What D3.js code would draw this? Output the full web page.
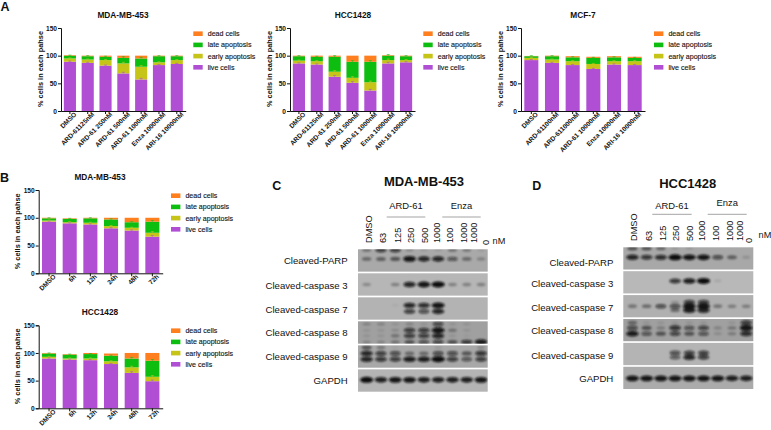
<!DOCTYPE html>
<html>
<head>
<meta charset="utf-8">
<script src="https://cdn.jsdelivr.net/npm/d3@7"></script>
<style>
  html, body { margin: 0; padding: 0; background: #fff; }
  svg { display: block; }
  text { font-family: "Liberation Sans", Arial, sans-serif; fill: #111; }
  .bold { font-weight: bold; }
  .axis path, .axis line { stroke: #111; stroke-width: 1; }
  .axis text { font-weight: bold; font-size: 6.6px; }
</style>
</head>
<body>
<div id="visualization"></div>
<script>
// phases, bottom to top of the stack
const phases = ['live', 'early', 'late', 'dead']
const legendLabels = ['dead cells', 'late apoptosis', 'early apoptosis', 'live cells']
const yTicks = [0, 50, 100, 150]

// panel A
const doseLabels = ['DMSO', 'ARD-61125nM', 'ARD-61 250nM', 'ARD-61 500nM', 'ARD-61 1000nM', 'Enza 10000nM', 'ARI-16 10000nM']
const mcfLabels = ['DMSO', 'ARD-61100nM', 'ARD-611000nM', 'ARD-61 10000nM', 'Enza 10000nM', 'ARI-16 10000nM']

const a1Live = [89, 87, 82, 68, 57, 83, 85]
const a1Early = [6, 6, 10, 18, 23, 5, 7]
const a1Late = [5, 6, 6, 10, 15, 11, 7]
const a1Dead = [1, 1, 2, 4, 5, 1, 1]
const a1Err = [1, 1, 1, 2, 2, 1, 1]

const a2Live = [86, 84, 62, 51, 37, 86, 88]
const a2Early = [5, 6, 9, 9, 15, 6, 4]
const a2Late = [8, 8, 27, 29, 37, 8, 7]
const a2Dead = [1, 2, 2, 11, 11, 1, 1]
const a2Err = [1, 1, 2, 2, 2, 2, 1]

const a3Live = [92, 87, 83, 76, 84, 83]
const a3Early = [4, 6, 7, 9, 6, 7]
const a3Late = [3, 6, 7, 11, 7, 6]
const a3Dead = [0.5, 1, 2, 2, 2, 2]
const a3Err = [1, 1, 1, 1, 1, 1]

// panel B
const timeLabels = ['DMSO', '6h', '12h', '24h', '48h', '72h']

const b1Live = [93, 90, 88, 81, 77, 66]
const b1Early = [2, 2, 3, 4, 5, 7]
const b1Late = [4, 6, 8, 12, 10, 20]
const b1Dead = [1, 1, 1, 3, 8, 7]
const b1Err = [1, 1, 1, 1, 1, 2]

const b2Live = [90, 88, 87, 80, 64, 49]
const b2Early = [3, 2, 3, 5, 10, 8]
const b2Late = [6, 7, 8, 10, 16, 29]
const b2Dead = [1, 1, 2, 4, 10, 14]
const b2Err = [1, 1, 1, 1, 2, 2]

// blots: row names and lane labels
const blotRows = ['Cleaved-PARP', 'Cleaved-caspase 3', 'Cleaved-caspase 7', 'Cleaved-caspase 8', 'Cleaved-caspase 9', 'GAPDH']
const laneLabels = ['DMSO', '63', '125', '250', '500', '1000', '100', '1000', '1000', '0']
const lanes = d3.range(9)

// band strength per lane, read by eye from the blots. panel C
const cParpTop = [.35, .7, .7, .2, .1, .1, .35, .3, .1]
const cParp = [.4, .45, .5, .95, .85, .85, .55, .4, .25]
const cCasp3 = [.25, 0, .3, .85, .95, 1, .3, .3, .3]
const cCasp7a = [0, 0, .05, .85, .8, .95, 0, 0, 0]
const cCasp7b = [0, 0, 0, .7, .6, .85, 0, 0, 0]
const cCasp8a = [.2, .2, .1, .2, .1, .6, .1, .1, 0]
const cCasp8b = [.1, .1, .15, .7, .7, .95, .3, .1, 0]
const cCasp8c = [.1, .1, .3, .7, .7, .85, .1, .05, 0]
const cCasp8d = [.2, .2, .3, .5, .55, .6, .5, .7, .9]
const cCasp9a = [.5, .3, .05, 0, 0, .1, 0, 0, .2]
const cCasp9b = [.85, .7, .6, .4, .4, .6, .6, .5, .75]
const cCasp9c = [.85, .75, .7, .9, .9, 1, .7, .55, .7]
const cGapdh = [1, .9, .95, .95, .9, .9, .9, .9, .95]

// panel D
const dParpTop = [.5, .5, .4, .1, .1, 0, 0, 0, 0]
const dParp = [.85, .75, .8, 1, .95, .95, .6, .45, .15]
const dCasp3 = [0, 0, 0, .75, .9, 1, .1, 0, 0]
const dCasp7a = [0, 0, 0, .2, .7, .7, 0, 0, 0]
const dCasp7b = [.35, .4, .6, .6, .95, .95, .35, .3, .3]
const dCasp7c = [0, 0, 0, .4, .9, .85, 0, 0, 0]
const dCasp8a = [.4, .1, .1, .1, .1, .1, 0, .1, .7]
const dCasp8b = [.6, .5, .25, .75, .55, .65, .2, .3, .95]
const dCasp8c = [.9, .55, .5, .65, .5, .55, .15, .25, .8]
const dCasp9a = [0, 0, 0, .6, .7, .7, 0, 0, 0]
const dCasp9b = [0, 0, 0, .55, .85, .7, 0, 0, 0]
const dGapdh = [.95, .95, .95, .95, .95, .95, .95, .9, .9]

const w = 771
const h = 430
const color = d3.scaleOrdinal(phases, ['#b04fd4', '#c6c416', '#0dbd10', '#ff7f1e'])

const svg = d3.select('#visualization')
  .append('svg')
  .attr('width', w)
  .attr('height', h)

// soft edges for the blot bands
svg.append('filter')
  .attr('id', 'soft')
  .attr('x', '-40%').attr('y', '-80%')
  .attr('width', '180%').attr('height', '260%')
  .append('feGaussianBlur')
  .attr('stdDeviation', 0.8)

function drawStack(o) {
  const x = d3.scaleBand()
    .domain(o.labels)
    .range([o.left, o.right])
    .paddingInner(o.pad)
    .paddingOuter(o.pad / 2)

  const y = d3.scaleLinear()
    .domain([0, 150])
    .range([o.base, o.top])

  const rows = o.labels.map((label, i) => ({
    label,
    live: o.live[i],
    early: o.early[i],
    late: o.late[i],
    dead: o.dead[i],
    err: o.err[i]
  }))
  const series = d3.stack().keys(phases)(rows)

  const g = svg.append('g')

  // BARS
  g.selectAll('g.phase')
    .data(series)
    .enter()
    .append('g')
    .attr('class', 'phase')
    .attr('fill', d => color(d.key))
    .selectAll('rect')
    .data(d => d)
    .enter()
    .append('rect')
    .attr('x', d => x(d.data.label))
    .attr('width', x.bandwidth())
    .attr('y', d => y(d[1]))
    .attr('height', d => y(d[0]) - y(d[1]))

  // ERROR BARS, they only show inside the next segment up
  series.slice(0, 3).forEach(s => {
    const cx = d => x(d.data.label) + x.bandwidth() / 2
    g.selectAll(null)
      .data(s)
      .enter()
      .append('path')
      .attr('fill', 'none')
      .attr('stroke', color(s.key))
      .attr('stroke-width', 0.6)
      .attr('d', d => {
        const top = y(d[1] + d.data.err)
        return `M${cx(d)},${y(d[1])}V${top}M${cx(d) - 1.5},${top}H${cx(d) + 1.5}`
      })
  })

  //GENERATE AXES
  g.append('g')
    .attr('class', 'axis')
    .attr('transform', `translate(${o.left},0)`)
    .call(d3.axisLeft(y).tickValues(yTicks).tickSize(3).tickPadding(1))

  const xAxis = g.append('g')
    .attr('class', 'axis')
    .attr('transform', `translate(0,${o.base})`)
    .call(d3.axisBottom(x).tickSize(3).tickPadding(1).tickSizeOuter(0))

  xAxis.selectAll('text')
    .attr('text-anchor', 'end')
    .attr('dx', '0.35em')
    .attr('dy', '0.55em')
    .attr('transform', 'rotate(-45)')

  // y axis title
  g.append('text')
    .text('% cells in each pahse')
    .attr('class', 'bold')
    .attr('font-size', 7.4)
    .attr('text-anchor', 'middle')
    .attr('transform', `translate(${o.left - 18.5},${o.base - 42}) rotate(-90)`)

  // panel title
  g.append('text')
    .text(o.title)
    .attr('class', 'bold')
    .attr('font-size', 8.3)
    .attr('text-anchor', 'middle')
    .attr('x', o.titleX)
    .attr('y', o.titleY)

  // legend
  const legendY = d3.scalePoint().domain(legendLabels).range([o.legendTop, o.legendTop + 33.6])
  const legendKeys = phases.slice().reverse()
  legendLabels.forEach((label, i) => {
    g.append('rect')
      .attr('x', o.legendX)
      .attr('y', legendY(label) - 2.3)
      .attr('width', 9.4)
      .attr('height', 4.6)
      .attr('fill', color(legendKeys[i]))
    g.append('text')
      .text(label)
      .attr('font-size', 7.1)
      .attr('stroke', '#111')
      .attr('stroke-width', 0.12)
      .attr('x', o.legendX + 14.4)
      .attr('y', legendY(label) + 2.4)
  })
}

drawStack({ title: 'MDA-MB-453', titleX: 123, titleY: 18, labels: doseLabels, live: a1Live, early: a1Early, late: a1Late, dead: a1Dead, err: a1Err,
  left: 61, right: 185.7, top: 28, base: 111, pad: 0.32, legendX: 193.3, legendTop: 33.7 })
drawStack({ title: 'HCC1428', titleX: 353, titleY: 18, labels: doseLabels, live: a2Live, early: a2Early, late: a2Late, dead: a2Dead, err: a2Err,
  left: 290, right: 415, top: 28, base: 111, pad: 0.32, legendX: 423.3, legendTop: 33.7 })
drawStack({ title: 'MCF-7', titleX: 583, titleY: 18, labels: mcfLabels, live: a3Live, early: a3Early, late: a3Late, dead: a3Dead, err: a3Err,
  left: 521, right: 645, top: 28, base: 111, pad: 0.32, legendX: 654, legendTop: 33.7 })
drawStack({ title: 'MDA-MB-453', titleX: 100, titleY: 180.3, labels: timeLabels, live: b1Live, early: b1Early, late: b1Late, dead: b1Dead, err: b1Err,
  left: 38.7, right: 162.7, top: 190, base: 273.3, pad: 0.32, legendX: 171, legendTop: 195.7 })
drawStack({ title: 'HCC1428', titleX: 100, titleY: 315.3, labels: timeLabels, live: b2Live, early: b2Early, late: b2Late, dead: b2Dead, err: b2Err,
  left: 38.7, right: 162.7, top: 325.3, base: 408.3, pad: 0.32, legendX: 171, legendTop: 330.7 })

function drawBlot(o) {
  const x = d3.scaleBand().domain(lanes).range(o.laneRange)
  const row = d3.scaleBand().domain(blotRows).range([o.top, o.bottom]).paddingInner(0.07)
  const strength = d3.scaleLinear().domain([0, 1]).range([0, 1])
  const thick = d3.scaleLinear().domain([0, 1]).range([1.2, 3])
  const long = d3.scaleLinear().domain([0, 1]).range([3.5, 6.6])

  const g = svg.append('g')

  blotRows.forEach((name, r) => {
    const rowY = d3.scaleLinear().domain([0, 1]).range([row(name), row(name) + row.bandwidth()])

    // membrane
    g.append('rect')
      .attr('x', o.left)
      .attr('y', row(name))
      .attr('width', o.right - o.left)
      .attr('height', row.bandwidth())
      .attr('fill', o.membrane[r])

    const clipId = `${o.id}-row-${r}`
    g.append('clipPath')
      .attr('id', clipId)
      .append('rect')
      .attr('x', o.left)
      .attr('y', row(name))
      .attr('width', o.right - o.left)
      .attr('height', row.bandwidth())

    const bands = g.append('g').attr('clip-path', `url(#${clipId})`).append('g').attr('filter', 'url(#soft)')
    o.bands[r].forEach(band => {
      bands.selectAll(null)
        .data(band.strength)
        .enter()
        .append('ellipse')
        .attr('cx', (d, i) => x(i) + x.bandwidth() / 2)
        .attr('cy', rowY(band.at))
        .attr('rx', d => long(d))
        .attr('ry', d => thick(d))
        .attr('fill', '#0c0c0c')
        .attr('opacity', d => strength(d))
    })

    g.append('text')
      .text(name)
      .attr('font-size', 9.6)
      .attr('text-anchor', 'end')
      .attr('x', o.labelRight)
      .attr('y', o.labelY[r])
      .attr('dy', '0.36em')
  })

  // lane labels
  laneLabels.forEach((label, i) => {
    g.append('text')
      .text(label)
      .attr('font-size', 9.2)
      .attr('transform', `translate(${o.laneX[i]},${label === '0' ? o.laneBase + 2 : o.laneBase}) rotate(-90)`)
  })
  g.append('text')
    .text('nM')
    .attr('font-size', 9.2)
    .attr('text-anchor', 'middle')
    .attr('x', o.nmX)
    .attr('y', o.nmY)

  // group headers
  o.groups.forEach(group => {
    g.append('text')
      .text(group.name)
      .attr('font-size', 9.4)
      .attr('text-anchor', 'middle')
      .attr('x', (group.from + group.to) / 2)
      .attr('y', group.textY)
    g.append('line')
      .attr('x1', group.from)
      .attr('x2', group.to)
      .attr('y1', o.groupLineY)
      .attr('y2', o.groupLineY)
      .attr('stroke', '#666')
      .attr('stroke-width', 0.6)
  })

  g.append('text')
    .text(o.title)
    .attr('class', 'bold')
    .attr('font-size', 13)
    .attr('text-anchor', 'middle')
    .attr('x', o.titleX)
    .attr('y', o.titleY)
}

drawBlot({
  id: 'c', title: 'MDA-MB-453', titleX: 424, titleY: 185.5,
  left: 358, right: 487.7, laneRange: [359.5, 488.2], top: 249.3, bottom: 391.7,
  membrane: ['#a9a9a9', '#b6b6b6', '#b3b3b3', '#a0a0a0', '#a8a8a8', '#b4b4b4'],
  labelRight: 347.7, labelY: [261, 286, 310, 333, 356.7, 380.3],
  laneX: [371.5, 386, 400.5, 414, 427.5, 440, 452.5, 466.5, 476.5, 488.5], laneBase: 243,
  nmX: 499, nmY: 243.5,
  groups: [
    { name: 'ARD-61', from: 386.7, to: 425.3, textY: 208.5 },
    { name: 'Enza', from: 442.3, to: 480.7, textY: 208.5 }
  ],
  groupLineY: 217,
  bands: [
    [{ at: 0.03, strength: cParpTop }, { at: 0.43, strength: cParp }],
    [{ at: 0.5, strength: cCasp3 }],
    [{ at: 0.36, strength: cCasp7a }, { at: 0.63, strength: cCasp7b }],
    [{ at: 0.12, strength: cCasp8a }, { at: 0.4, strength: cCasp8b }, { at: 0.65, strength: cCasp8c }, { at: 0.93, strength: cCasp8d }],
    [{ at: 0.1, strength: cCasp9a }, { at: 0.36, strength: cCasp9b }, { at: 0.62, strength: cCasp9c }],
    [{ at: 0.47, strength: cGapdh }]
  ]
})

drawBlot({
  id: 'd', title: 'HCC1428', titleX: 687.7, titleY: 187.5,
  left: 623.3, right: 753.3, laneRange: [625.3, 753.3], top: 247.3, bottom: 389,
  membrane: ['#a8a8a8', '#b8b8b8', '#b0b0b0', '#a0a0a0', '#b4b4b4', '#ababab'],
  labelRight: 613.3, labelY: [262.7, 283.7, 307.7, 330.3, 355.7, 378.3],
  laneX: [636.5, 652, 665.5, 679, 692.5, 704.5, 718.5, 732.5, 742.5, 751.5], laneBase: 241,
  nmX: 765, nmY: 238,
  groups: [
    { name: 'ARD-61', from: 652.3, to: 691.7, textY: 208.5 },
    { name: 'Enza', from: 707.7, to: 746.7, textY: 206 }
  ],
  groupLineY: 214.3,
  bands: [
    [{ at: 0.05, strength: dParpTop }, { at: 0.45, strength: dParp }],
    [{ at: 0.44, strength: dCasp3 }],
    [{ at: 0.32, strength: dCasp7a }, { at: 0.5, strength: dCasp7b }, { at: 0.68, strength: dCasp7c }],
    [{ at: 0.17, strength: dCasp8a }, { at: 0.4, strength: dCasp8b }, { at: 0.66, strength: dCasp8c }],
    [{ at: 0.45, strength: dCasp9a }, { at: 0.65, strength: dCasp9b }],
    [{ at: 0.52, strength: dGapdh }]
  ]
})

// panel letters
const panelLetters = [['A', 5, 11], ['B', 4.5, 182], ['C', 276.7, 190], ['D', 536.7, 190]]
panelLetters.forEach(([letter, px, py]) => {
  svg.append('text')
    .text(letter)
    .attr('class', 'bold')
    .attr('font-size', 12.5)
    .attr('text-anchor', 'middle')
    .attr('x', px)
    .attr('y', py)
})
</script>
</body>
</html>
